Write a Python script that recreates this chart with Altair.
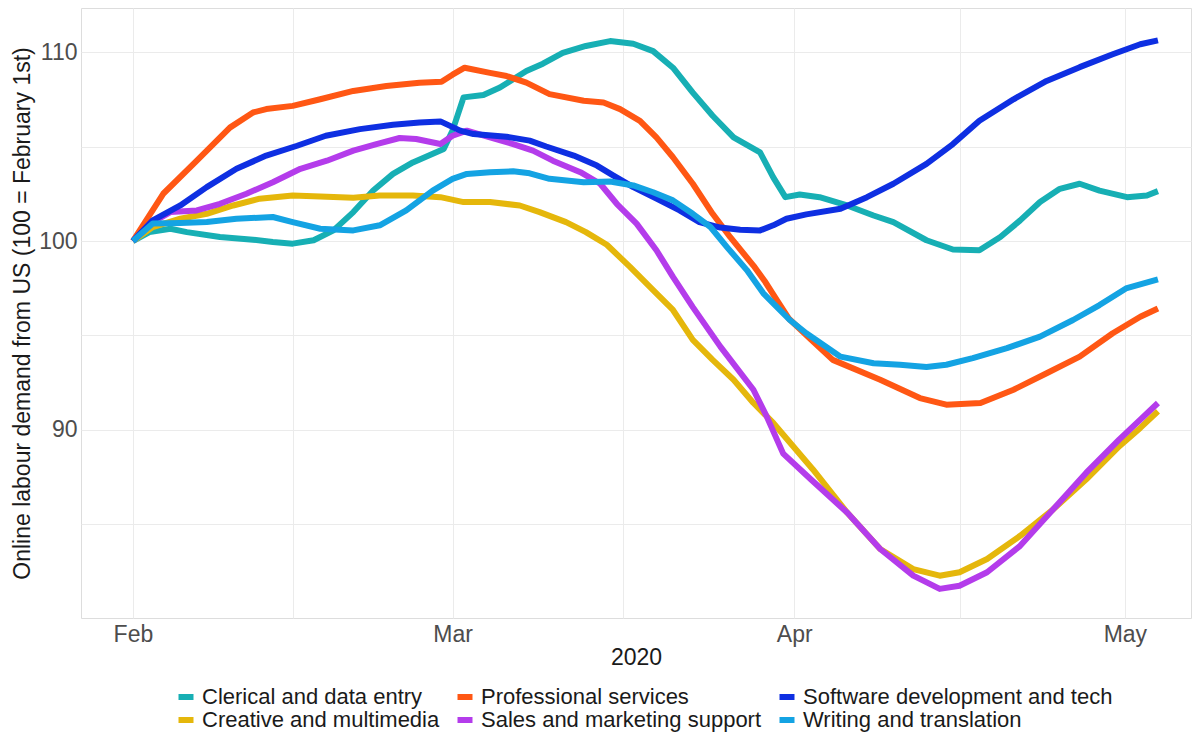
import altair as alt
import pandas as pd

# Series names (drawing order, alphabetical) and legend order (row-wise, 3 columns)
series_names = [
    "Clerical and data entry",
    "Creative and multimedia",
    "Professional services",
    "Sales and marketing support",
    "Software development and tech",
    "Writing and translation",
]
legend_order = [
    "Clerical and data entry",
    "Professional services",
    "Software development and tech",
    "Creative and multimedia",
    "Sales and marketing support",
    "Writing and translation",
]
legend_colors = ["#17AFB4", "#FF5714", "#0E2FE2", "#E5B70B", "#B43CEB", "#14A3E3"]

# Days since 1 Feb 2020 and index values (100 = 1 Feb)
clerical_days = [0, 1.5, 3.4, 4.9, 7.9, 10.9, 12.7, 14.5, 16.4, 18.2, 20, 21.8, 23.6, 25.4, 28.2, 29, 30,
                 31.8, 33.3, 35.7, 37.2, 39, 41.1, 43.3, 45.4, 47.2, 49, 50.8, 52.6, 54.5, 56.9, 58.1,
                 59.2, 60.5, 62.3, 64.8, 67.2, 69, 72, 74.4, 76.8, 78.7, 80.5, 82.3, 84.1, 85.9, 87.7,
                 90.2, 92, 93]
clerical_vals = [100, 100.47, 100.65, 100.47, 100.21, 100.07, 99.95, 99.86, 100.04, 100.56, 101.53,
                 102.67, 103.55, 104.16, 104.87, 105.84, 107.6, 107.73, 108.12, 109.0, 109.38, 109.96,
                 110.32, 110.58, 110.44, 110.05, 109.17, 107.85, 106.63, 105.48, 104.69, 103.37,
                 102.32, 102.46, 102.32, 101.88, 101.35, 101.0, 100.04, 99.55, 99.51, 100.21, 101.09,
                 102.06, 102.76, 103.03, 102.67, 102.32, 102.41, 102.64]

creative_days = [0, 1.8, 4.3, 6.7, 9.1, 11.5, 14.5, 17, 20, 22.4, 25.4, 27.9, 30, 32.4, 35.1, 36.9,
                 39.3, 41.1, 43, 45.1, 47.2, 49, 50.8, 52.6, 54.5, 56.3, 58.1, 59.9, 61.7, 64.8, 67.8,
                 70.8, 73.2, 75, 77.5, 80.5, 83.5, 86.5, 89.5, 91.4, 93]
creative_vals = [100, 100.74, 101.18, 101.44, 101.88, 102.24, 102.41, 102.36, 102.29, 102.41, 102.41,
                 102.32, 102.06, 102.06, 101.88, 101.53, 101.0, 100.47, 99.8, 98.63, 97.4, 96.35,
                 94.77, 93.71, 92.66, 91.43, 90.37, 89.14, 87.91, 85.63, 83.7, 82.64, 82.29, 82.47,
                 83.17, 84.4, 85.8, 87.39, 89.14, 90.11, 90.99]

professional_days = [0, 2.75, 5.8, 8.8, 10.9, 12.1, 14.5, 17, 20, 23, 26, 28, 29, 30.1, 32.4, 33.9,
                     35.7, 37.8, 40.9, 42.7, 44.2, 46, 47.5, 49, 50.8, 52.6, 54.2, 56.3, 57.3, 58.5,
                     59.5, 61.5, 63.5, 67.8, 71.4, 73.8, 76.9, 79.9, 82.9, 85.9, 88.9, 91.4, 93]
professional_vals = [100, 102.5, 104.25, 106.0, 106.8, 106.98, 107.15, 107.5, 107.94, 108.2, 108.38,
                     108.43, 108.8, 109.17, 108.9, 108.73, 108.38, 107.77, 107.42, 107.33, 106.98,
                     106.36, 105.48, 104.43, 103.03, 101.44, 100.2, 98.7, 97.9, 96.8, 95.9, 94.8,
                     93.71, 92.66, 91.69, 91.34, 91.43, 92.13, 93.0, 93.88, 95.12, 95.99, 96.43]

sales_days = [0, 1.8, 3.4, 5.8, 7.9, 10.3, 12.7, 15.2, 17.6, 20, 22.1, 24.2, 25.7, 27.9, 29, 30.3,
              32.4, 34.5, 36.3, 38.1, 40.6, 42.4, 43.9, 45.7, 47.5, 49, 50.8, 53.3, 56.3, 57.5, 59,
              61.5, 64.8, 67.8, 70.8, 73.2, 75, 77.5, 80.5, 83.5, 86.5, 89.5, 91.4, 93]
sales_vals = [100, 101.0, 101.53, 101.62, 101.97, 102.5, 103.11, 103.82, 104.25, 104.78, 105.13,
              105.45, 105.4, 105.13, 105.57, 105.84, 105.48, 105.13, 104.78, 104.25, 103.64, 103.03,
              101.97, 100.92, 99.51, 98.1, 96.5, 94.41, 92.13, 90.72, 88.75, 87.39, 85.63, 83.7,
              82.29, 81.59, 81.76, 82.47, 83.87, 85.8, 87.74, 89.5, 90.55, 91.43]

software_days = [0, 1.8, 4.3, 6.7, 9.4, 12.1, 14.9, 17.5, 20.6, 23.6, 26, 27.9, 29.7, 30.9, 33.9, 36,
                 37.5, 40, 42.1, 43.6, 45.4, 47.5, 49.6, 51.4, 53.3, 55.1, 56.9, 58.1, 59.3, 61.1,
                 64.2, 66.6, 69, 72, 74.4, 76.8, 79.9, 82.9, 85.9, 88.9, 91.4, 93]
software_vals = [100, 101.09, 101.88, 102.85, 103.82, 104.52, 105.04, 105.57, 105.92, 106.15, 106.27,
                 106.33, 105.84, 105.66, 105.52, 105.31, 105.0, 104.52, 103.99, 103.46, 102.85,
                 102.24, 101.62, 101.0, 100.71, 100.6, 100.56, 100.83, 101.18, 101.41, 101.71,
                 102.32, 103.03, 104.08, 105.13, 106.36, 107.5, 108.47, 109.2, 109.88, 110.41, 110.62]

writing_days = [0, 1.8, 4.3, 6.7, 9.4, 12.7, 14.5, 17, 20, 22.4, 24.8, 27.2, 29, 30.3, 32.4, 34.5, 36,
                37.8, 40.9, 43.3, 45.4, 47.2, 49, 50.8, 52.4, 53.9, 55.7, 57.2, 58.1, 59.6, 61.1,
                64.2, 67.2, 69.6, 72, 73.8, 76.2, 79.3, 82.3, 85.3, 87.7, 90.1, 93]
writing_vals = [100, 100.92, 100.95, 101.0, 101.18, 101.27, 101.0, 100.65, 100.56, 100.83, 101.62,
                102.67, 103.29, 103.55, 103.64, 103.69, 103.58, 103.29, 103.11, 103.15, 102.94,
                102.58, 102.15, 101.44, 100.74, 99.68, 98.46, 97.23, 96.7, 95.82, 95.12, 93.88,
                93.53, 93.45, 93.33, 93.45, 93.8, 94.33, 94.94, 95.82, 96.61, 97.49, 97.97]

series_data = [
    (clerical_days, clerical_vals),
    (creative_days, creative_vals),
    (professional_days, professional_vals),
    (sales_days, sales_vals),
    (software_days, software_vals),
    (writing_days, writing_vals),
]

start = pd.Timestamp("2020-02-01")
rows = []
for name, (days, vals) in zip(series_names, series_data):
    for d, v in zip(days, vals):
        t = start + pd.to_timedelta(d, unit="D")
        rows.append({"date": t.strftime("%Y-%m-%dT%H:%M:%SZ"), "value": v, "series": name})
df = pd.DataFrame(rows)

FONT = "Liberation Sans"

x_ticks = [
    alt.DateTime(year=2020, month=2, date=1, utc=True),
    alt.DateTime(year=2020, month=2, date=15, hours=12, utc=True),
    alt.DateTime(year=2020, month=3, date=1, utc=True),
    alt.DateTime(year=2020, month=3, date=16, hours=12, utc=True),
    alt.DateTime(year=2020, month=4, date=1, utc=True),
    alt.DateTime(year=2020, month=4, date=16, utc=True),
    alt.DateTime(year=2020, month=5, date=1, utc=True),
]
y_ticks = [85, 90, 95, 100, 105, 110]

chart = alt.Chart(df).mark_line(strokeWidth=6, strokeCap="butt", strokeJoin="round").encode(
    x=alt.X(
        "date:T",
        title="2020",
        scale=alt.Scale(
            type="utc",
            nice=False,
            domain=[alt.DateTime(year=2020, month=1, date=27, hours=7, utc=True),
                    alt.DateTime(year=2020, month=5, date=7, utc=True)],
        ),
        axis=alt.Axis(
            values=x_ticks,
            labelExpr="utcdate(datum.value) == 1 ? utcFormat(datum.value, '%b') : ''",
            ticks=False, domain=False, grid=True, gridColor="#EBEBEB", gridWidth=1,
            labelFont=FONT, labelFontSize=23, labelColor="#4D4D4D", labelPadding=5,
            titleFont=FONT, titleFontSize=23, titleColor="#1A1A1A", titleFontWeight="normal",
            titlePadding=0, labelFlush=False, labelOverlap=False,
        ),
    ),
    y=alt.Y(
        "value:Q",
        title="Online labour demand from US (100 = February 1st)",
        scale=alt.Scale(domain=[80.05, 112.33], nice=False, zero=False),
        axis=alt.Axis(
            values=y_ticks,
            labelExpr="datum.value % 10 == 0 ? datum.label : ''",
            ticks=False, domain=False, grid=True, gridColor="#EBEBEB", gridWidth=1,
            labelFont=FONT, labelFontSize=23, labelColor="#4D4D4D", labelPadding=4,
            titleFont=FONT, titleFontSize=23, titleColor="#1A1A1A", titleFontWeight="normal",
            titlePadding=4, labelOverlap=False,
        ),
    ),
    color=alt.Color(
        "series:N",
        scale=alt.Scale(domain=legend_order, range=legend_colors),
        legend=alt.Legend(
            title=None, orient="none", legendX=94, legendY=678, direction="horizontal",
            columns=3, symbolType="stroke", symbolSize=225, symbolStrokeWidth=6,
            labelFont=FONT, labelFontSize=22, labelColor="#1A1A1A", labelOffset=5,
            labelLimit=500, columnPadding=5, rowPadding=-3, padding=0,
        ),
    ),
).properties(
    width=1110,
    height=610,
    autosize=alt.AutoSizeParams(type="none"),
    padding={"left": 73, "top": 0, "right": 3, "bottom": 114},
).configure_view(stroke=None).configure(background="white")

chart.save("out.html", embed_options={"renderer": "svg", "actions": False})
